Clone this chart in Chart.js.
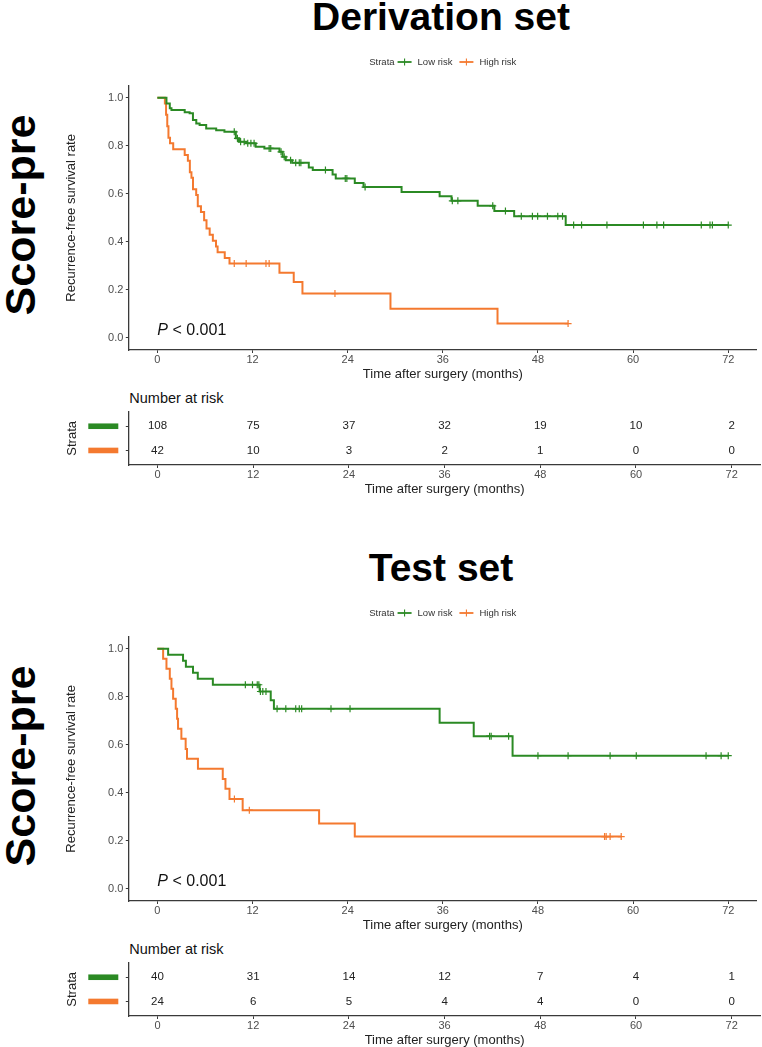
<!DOCTYPE html>
<html><head><meta charset="utf-8">
<script src="https://cdn.jsdelivr.net/npm/chart.js@4.4.1/dist/chart.umd.min.js"></script>
<style>
html,body{margin:0;padding:0;background:#fff;}
body{width:762px;height:1047px;position:relative;overflow:hidden;font-family:'Liberation Sans',Arial,sans-serif;}
canvas{position:absolute;left:0;}
.title{position:absolute;left:0;width:882px;text-align:center;font-weight:bold;font-size:39px;line-height:39px;color:#000;white-space:nowrap;}
.side{position:absolute;left:20px;font-weight:bold;font-size:43px;line-height:43px;color:#000;white-space:nowrap;transform:translate(-50%,-50%) rotate(-90deg);}
.nar{position:absolute;left:129.3px;font-size:14.5px;line-height:14.5px;color:#111;white-space:nowrap;}
</style></head>
<body>
<div class="title" style="top:-3px">Derivation set</div>
<div class="side" style="top:215px">Score-pre</div>
<div class="nar" style="top:391px">Number at risk</div>
<canvas id="km1" width="762" height="335" style="top:50px"></canvas>
<canvas id="rt1" width="762" height="112" style="top:385px"></canvas>

<div class="title" style="top:547.6px">Test set</div>
<div class="side" style="top:765.6px">Score-pre</div>
<div class="nar" style="top:941.6px">Number at risk</div>
<canvas id="km2" width="762" height="335" style="top:600.6px"></canvas>
<canvas id="rt2" width="762" height="112" style="top:935.6px"></canvas>

<script>
// ---------- data ----------
const xTicks = [0, 12, 24, 36, 48, 60, 72];
const yTicks = [0, 0.2, 0.4, 0.6, 0.8, 1.0];
const strata = ['Low risk', 'High risk'];
const pText = '< 0.001';

// Derivation set: Low risk
const derLowT = [0, 1.15, 1.57, 1.78, 3.45, 4.07, 4.49, 4.91, 5.33, 6.16, 7.42, 8.46, 9.9, 10.3, 11.2, 12.4, 13.5, 15.4, 15.8, 16.2, 17.0, 19.1, 19.6, 22.1, 22.5, 24.9, 26.0, 30.8, 35.6, 37.1, 40.4, 42.5, 45.0, 51.5, 72.0];
const derLowS = [1.0, 0.976, 0.956, 0.949, 0.939, 0.935, 0.907, 0.893, 0.886, 0.872, 0.865, 0.858, 0.831, 0.817, 0.81, 0.796, 0.789, 0.775, 0.754, 0.74, 0.729, 0.71, 0.699, 0.68, 0.664, 0.645, 0.628, 0.608, 0.59, 0.571, 0.55, 0.529, 0.507, 0.47, 0.47];
const derLowCens = [9.7, 10.1, 10.5, 10.95, 11.4, 11.8, 12.2, 14.1, 14.3, 15.6, 16.0, 16.8, 17.45, 17.9, 18.1, 21.2, 23.7, 23.9, 26.2, 37.2, 37.9, 42.3, 43.9, 45.9, 47.3, 47.96, 49.2, 50.5, 51.1, 52.5, 53.5, 56.7, 61.3, 63.0, 63.85, 68.6, 69.7, 70.0, 72.0];
// Derivation set: High risk
const derHighT = [0, 0.95, 1.1, 1.25, 1.4, 1.6, 2.0, 3.45, 3.85, 4.1, 4.3, 4.5, 4.9, 5.1, 5.5, 5.9, 6.2, 6.6, 7.0, 7.4, 7.6, 8.5, 9.1, 15.4, 17.2, 18.3, 29.4, 42.9, 51.8];
const derHighS = [1.0, 0.976, 0.929, 0.881, 0.833, 0.81, 0.786, 0.762, 0.738, 0.69, 0.667, 0.619, 0.595, 0.548, 0.524, 0.49, 0.456, 0.43, 0.405, 0.381, 0.357, 0.333, 0.31, 0.272, 0.233, 0.185, 0.122, 0.06, 0.06];
const derHighCens = [9.7, 11.2, 13.7, 14.1, 22.4, 51.8];
const derRiskLow = [108, 75, 37, 32, 19, 10, 2];
const derRiskHigh = [42, 10, 3, 2, 1, 0, 0];

// Test set: Low risk
const tstLowT = [0, 1.36, 3.24, 3.6, 4.5, 5.1, 7.0, 12.9, 14.3, 14.7, 35.6, 39.9, 44.8, 72.0];
const tstLowS = [1.0, 0.975, 0.95, 0.925, 0.9, 0.875, 0.85, 0.822, 0.786, 0.75, 0.692, 0.636, 0.555, 0.555];
const tstLowCens = [11.1, 12.0, 12.6, 12.8, 13.0, 13.3, 13.7, 15.1, 16.2, 17.45, 17.9, 18.2, 21.9, 24.3, 41.9, 42.1, 44.3, 48.0, 51.8, 57.1, 60.4, 69.2, 71.1, 72.0];
// Test set: High risk
const tstHighT = [0, 0.73, 1.15, 1.57, 1.78, 1.99, 2.32, 2.49, 2.61, 3.03, 3.57, 3.74, 5.12, 8.25, 8.59, 9.1, 10.76, 20.4, 24.9, 58.5];
const tstHighS = [1.0, 0.958, 0.917, 0.875, 0.833, 0.792, 0.75, 0.708, 0.667, 0.625, 0.583, 0.542, 0.5, 0.458, 0.417, 0.375, 0.328, 0.273, 0.218, 0.218];
const tstHighCens = [9.72, 11.6, 56.4, 56.6, 57.1, 58.5];
const tstRiskLow = [40, 31, 14, 12, 7, 4, 1];
const tstRiskHigh = [24, 6, 5, 4, 4, 0, 0];

// ---------- styling ----------
const colLow = '#2b8a24';
const colHigh = '#f4792f';
const axisCol = '#3a3a3a';
const tickCol = '#4d4d4d';
const FONT = "'Liberation Sans', Arial, sans-serif";
Chart.defaults.font.family = FONT;

function stepAt(T, S, t) {
  let v = S[0];
  for (let i = 0; i < T.length; i++) { if (T[i] <= t) v = S[i]; }
  return v;
}

const legendPlugin = {
  id: 'kmLegend',
  afterDraw(chart) {
    const ctx = chart.ctx, a = chart.chartArea;
    ctx.save();
    ctx.font = '9.5px ' + FONT;
    ctx.textBaseline = 'middle';
    ctx.textAlign = 'left';
    const y = 12;
    const items = [
      {t: 'Strata', w: ctx.measureText('Strata').width, sym: null},
      {t: strata[0], w: ctx.measureText(strata[0]).width, sym: colLow},
      {t: strata[1], w: ctx.measureText(strata[1]).width, sym: colHigh}
    ];
    const symW = 14, g1 = 3, g2 = 7;
    let total = items[0].w + g1;
    for (let i = 1; i < items.length; i++) total += symW + g1 + 3 + items[i].w + (i < items.length - 1 ? g2 : 0);
    let x = (a.left + a.right) / 2 - total / 2;
    ctx.fillStyle = '#333';
    ctx.fillText(items[0].t, x, y);
    x += items[0].w + g1;
    for (let i = 1; i < items.length; i++) {
      ctx.strokeStyle = items[i].sym;
      ctx.lineWidth = 1.8;
      ctx.beginPath(); ctx.moveTo(x, y); ctx.lineTo(x + symW, y); ctx.stroke();
      ctx.lineWidth = 1.1;
      ctx.beginPath(); ctx.moveTo(x + symW / 2, y - 3.5); ctx.lineTo(x + symW / 2, y + 3.5); ctx.stroke();
      x += symW + g1 + 3;
      ctx.fillStyle = '#333';
      ctx.fillText(items[i].t, x, y);
      x += items[i].w + g2;
    }
    ctx.restore();
  }
};

const pvalPlugin = {
  id: 'pval',
  afterDatasetsDraw(chart) {
    const ctx = chart.ctx;
    const x = chart.scales.x.getPixelForValue(0);
    const y = chart.scales.y.getPixelForValue(0.011);
    ctx.save();
    ctx.fillStyle = '#111';
    ctx.textBaseline = 'alphabetic';
    ctx.textAlign = 'left';
    ctx.font = 'italic 16px ' + FONT;
    ctx.fillText('P', x, y);
    const w = ctx.measureText('P ').width;
    ctx.font = '16px ' + FONT;
    ctx.fillText(pText, x + w, y);
    ctx.restore();
  }
};

function axisX(title, h) {
  return {
    type: 'linear', min: -3.6, max: 75.6,
    afterBuildTicks: s => { s.ticks = xTicks.map(v => ({value: v})); },
    afterFit: s => { s.height = h; },
    ticks: {font: {size: 11}, color: tickCol, padding: 0, maxRotation: 0, autoSkip: false, callback: v => String(v)},
    grid: {display: true, drawOnChartArea: false, drawTicks: true, tickLength: 3, color: axisCol, lineWidth: 1},
    border: {display: true, color: axisCol, width: 1.3},
    title: {display: true, text: title, font: {size: 13}, color: '#222', padding: {top: 0, bottom: h === 35 ? 3 : 0.2}}
  };
}

function kmChart(id, lowT, lowS, lowC, highT, highS, highC) {
  const line = (T, S) => T.map((t, i) => ({x: t, y: S[i]}));
  const cens = (T, S, C) => C.map(c => ({x: c, y: stepAt(T, S, c)}));
  return new Chart(document.getElementById(id), {
    type: 'scatter',
    data: {datasets: [
      {label: strata[0], data: line(lowT, lowS), showLine: true, stepped: 'before', borderColor: colLow, borderWidth: 2, pointRadius: 0, fill: false},
      {label: strata[1], data: line(highT, highS), showLine: true, stepped: 'before', borderColor: colHigh, borderWidth: 2, pointRadius: 0, fill: false},
      {label: strata[0] + ' censored', data: cens(lowT, lowS, lowC), showLine: false, pointStyle: 'cross', pointRadius: 3.5, borderColor: colLow, backgroundColor: colLow, pointBorderWidth: 1.2},
      {label: strata[1] + ' censored', data: cens(highT, highS, highC), showLine: false, pointStyle: 'cross', pointRadius: 3.5, borderColor: colHigh, backgroundColor: colHigh, pointBorderWidth: 1.2}
    ]},
    options: {
      responsive: false, animation: false, devicePixelRatio: 1,
      layout: {padding: {top: 35.7, right: 1.6, bottom: 0, left: 0}},
      plugins: {legend: {display: false}, tooltip: {enabled: false}},
      scales: {
        x: axisX('Time after surgery (months)', 35),
        y: {
          type: 'linear', min: -0.05, max: 1.05,
          afterBuildTicks: s => { s.ticks = yTicks.map(v => ({value: v})); },
          afterFit: s => { s.width = 128.8; },
          ticks: {font: {size: 11}, color: tickCol, padding: 2.5, callback: v => Number(v).toFixed(1)},
          grid: {display: true, drawOnChartArea: false, drawTicks: true, tickLength: 3, color: axisCol, lineWidth: 1},
          border: {display: true, color: axisCol, width: 1.3},
          title: {display: true, text: 'Recurrence-free survival rate', font: {size: 13}, color: '#222', padding: {top: 63.2, bottom: 0}}
        }
      }
    },
    plugins: [legendPlugin, pvalPlugin]
  });
}

const tablePlugin = {
  id: 'riskTable',
  afterDatasetsDraw(chart) {
    const ctx = chart.ctx;
    ctx.save();
    ctx.font = '11.5px ' + FONT;
    ctx.textAlign = 'center';
    ctx.textBaseline = 'middle';
    chart.data.datasets.forEach((ds, i) => {
      const meta = chart.getDatasetMeta(i);
      ctx.fillStyle = '#222';
      meta.data.forEach((pt, j) => { ctx.fillText(String(ds.data[j].n), pt.x, pt.y); });
      const yRow = chart.scales.y.getPixelForValue(ds.data[0].y);
      ctx.fillStyle = ds.barColor;
      ctx.fillRect(88.3, yRow - 2.8, 30, 5.6);
    });
    ctx.restore();
  }
};

function riskChart(id, lowN, highN) {
  return new Chart(document.getElementById(id), {
    type: 'scatter',
    data: {datasets: [
      {label: strata[0], barColor: colLow, data: xTicks.map((t, i) => ({x: t, y: 1, n: lowN[i]})), pointRadius: 0},
      {label: strata[1], barColor: colHigh, data: xTicks.map((t, i) => ({x: t, y: 2, n: highN[i]})), pointRadius: 0}
    ]},
    options: {
      responsive: false, animation: false, devicePixelRatio: 1,
      layout: {padding: {top: 26.7, right: 1.6, bottom: 0, left: 0}},
      plugins: {legend: {display: false}, tooltip: {enabled: false}},
      scales: {
        x: axisX('Time after surgery (months)', 32),
        y: {
          type: 'linear', min: 0.4, max: 2.6, reverse: true,
          afterBuildTicks: s => { s.ticks = [{value: 1}, {value: 2}]; },
          afterFit: s => { s.width = 128.8; },
          ticks: {callback: () => '', padding: 0},
          grid: {display: true, drawOnChartArea: false, drawTicks: true, tickLength: 3, color: axisCol, lineWidth: 1},
          border: {display: true, color: axisCol, width: 1.3},
          title: {display: true, text: 'Strata', font: {size: 13}, color: '#222', padding: {top: 64.2, bottom: 0}}
        }
      }
    },
    plugins: [tablePlugin]
  });
}

kmChart('km1', derLowT, derLowS, derLowCens, derHighT, derHighS, derHighCens);
riskChart('rt1', derRiskLow, derRiskHigh);
kmChart('km2', tstLowT, tstLowS, tstLowCens, tstHighT, tstHighS, tstHighCens);
riskChart('rt2', tstRiskLow, tstRiskHigh);
</script>
</body></html>
